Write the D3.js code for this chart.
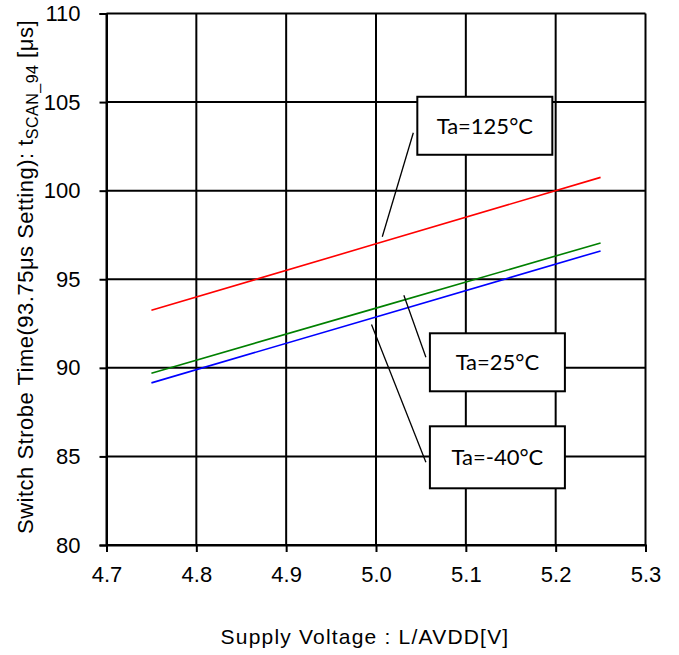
<!DOCTYPE html>
<html><head><meta charset="utf-8">
<script src="https://cdn.jsdelivr.net/npm/d3@7"></script>
<style>body{margin:0;background:#fff}svg{display:block}</style>
</head><body>
<svg id="c" width="679" height="655"></svg>
<script>
const voltages = [4.75, 5.0, 5.25];
const t125 = [93.25, 97.0, 100.75];
const t25 = [89.7, 93.37, 97.05];
const tm40 = [89.15, 92.87, 96.6];
const xTicks = [4.7, 4.8, 4.9, 5.0, 5.1, 5.2, 5.3];
const yTicks = [80, 85, 90, 95, 100, 105, 110];
const seriesNames = ["Ta=125°C", "Ta=25°C", "Ta=-40°C"];
const seriesColors = ["#ff0000", "#008000", "#0000ff"];
// label anchor positions in data units: [box x0, box y top, pointer x, pointer y]
const labelBoxes = [[5.046, 105.3, 5.007, 97.4], [5.06, 91.95, 5.031, 94.1], [5.06, 86.7, 4.995, 92.45]];

const svg = d3.select("#c");
const x = d3.scaleLinear().domain([4.7, 5.3]).range([106.5, 645.5]);
const y = d3.scaleLinear().domain([80, 110]).range([545, 13.5]);
const fmtX = d3.format(".1f");

// grid
const g = svg.append("g");
g.selectAll(".vg").data(xTicks).join("line")
  .attr("x1", d => x(d)).attr("x2", d => x(d)).attr("y1", y(80)).attr("y2", y(110))
  .attr("stroke", "#000").attr("stroke-width", 2);
g.selectAll(".hg").data(yTicks).join("line")
  .attr("y1", d => y(d)).attr("y2", d => y(d)).attr("x1", x(4.7)).attr("x2", x(5.3))
  .attr("stroke", "#000").attr("stroke-width", 2);

// axes
const xa = svg.append("g").attr("transform", `translate(0,${y(80)})`)
  .call(d3.axisBottom(x).tickValues(xTicks).tickFormat(fmtX).tickSize(7).tickPadding(14));
const ya = svg.append("g").attr("transform", `translate(${x(4.7)},0)`)
  .call(d3.axisLeft(y).tickValues(yTicks).tickSize(7).tickPadding(19));
[xa, ya].forEach(a => {
  a.select(".domain").attr("stroke", "#000").attr("stroke-width", 2);
  a.selectAll(".tick line").attr("stroke", "#000").attr("stroke-width", 2);
  a.selectAll("text").attr("font-family", "Liberation Sans, Arial, sans-serif")
    .attr("font-size", 22).attr("fill", "#000");
});

// series
const series = [t125, t25, tm40];
const line = d3.line().x((d, i) => x(voltages[i])).y(d => y(d));
series.forEach((s, k) => {
  svg.append("path").datum(s).attr("d", line).attr("fill", "none")
    .attr("stroke", seriesColors[k]).attr("stroke-width", 1.6);
});

// labels
const bw = 135;
labelBoxes.forEach((b, k) => {
  const bx = x(b[0]), by = y(b[1]);
  svg.append("line").attr("x1", x(b[2])).attr("y1", y(b[3])).attr("x2", bx - 4).attr("y2", k === 0 ? by + 36 : by + 24 + (k === 2 ? 12 : 0))
    .attr("stroke", "#000").attr("stroke-width", 1.3);
  svg.append("rect").attr("x", bx).attr("y", by).attr("width", bw).attr("height", k === 2 ? 62 : 58)
    .attr("fill", "#fff").attr("stroke", "#000").attr("stroke-width", 2);
  svg.append("text").attr("x", bx + bw / 2).attr("y", by + (k === 2 ? 31 : 29)).attr("dy", "0.36em")
    .attr("text-anchor", "middle").attr("font-family", "Lato, 'Open Sans', sans-serif")
    .attr("font-size", 22).attr("fill", "#000").text(seriesNames[k]);
});

// axis titles
svg.append("text").attr("x", 365).attr("y", 644).attr("text-anchor", "middle")
  .attr("font-family", "Liberation Sans, Arial, sans-serif").attr("font-size", 21)
  .attr("letter-spacing", 1.2)
  .text("Supply Voltage : L/AVDD[V]");
const yt = svg.append("text").attr("transform", "translate(33,277) rotate(-90)").attr("text-anchor", "middle")
  .attr("font-family", "Liberation Sans, Arial, sans-serif").attr("font-size", 22)
  .attr("letter-spacing", 0.5);
yt.append("tspan").text("Switch Strobe Time(93.75μs Setting): t");
yt.append("tspan").attr("font-size", 16).attr("dy", 5).text("SCAN_94");
yt.append("tspan").attr("dy", -5).text(" [μs]");
</script>
</body></html>
